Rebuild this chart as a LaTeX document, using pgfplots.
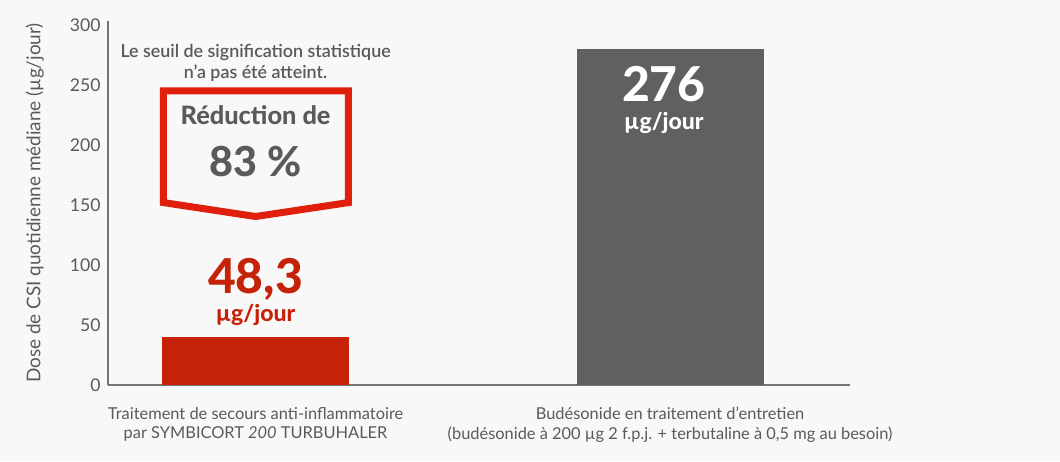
\documentclass[border=0pt]{standalone}
\usepackage{fontspec}
\setmainfont{Lato}
\newfontfamily\latosemi{Lato Semibold}
\newfontfamily\latoheavy{Lato Heavy}
\usepackage{pgfplots}
\pgfplotsset{compat=1.18}
\definecolor{bgcol}{HTML}{F8F8F8}
\definecolor{barred}{HTML}{C4230A}
\definecolor{boxred}{HTML}{E01F0C}
\definecolor{bargray}{HTML}{606062}
\definecolor{txtgray}{HTML}{5A5A5A}
\definecolor{axgray}{HTML}{767676}
\begin{document}
\begin{tikzpicture}
  \fill[bgcol] (0,0) rectangle (795pt,345.75pt);
  \node[rotate=90, text=txtgray, font=\fontsize{14.2}{16}\selectfont] at (26pt,193.5pt)
    {Dose de CSI quotidienne médiane (µg/jour)};
  \begin{axis}[
      at={(81pt,57pt)}, anchor=south west,
      scale only axis,
      width=556.5pt, height=273pt,
      xmin=-0.356, xmax=1.434,
      ymin=0, ymax=303.3,
      axis lines=left,
      axis line style={draw=axgray, -, line width=0.9pt},
      major tick length=0pt,
      ytick={0,50,...,300},
      xtick={0,1},
      xticklabels={{Traitement de secours anti-inflammatoire\\par SYMBICORT \textit{200} TURBUHALER},
                   {Budésonide en traitement d’entretien\\(budésonide à 200 µg 2 f.p.j. + terbutaline à 0,5 mg au besoin)}},
      /pgf/number format/assume math mode=true,
      y tick label style={font=\fontsize{13.2}{15}\selectfont, text=txtgray, xshift=-2pt},
      x tick label style={font=\fontsize{12.3}{14.6}\selectfont, text=txtgray, align=center, yshift=-13pt},
      ybar, bar width=140.25pt, bar shift=0pt,
      clip=false,
    ]
    \addplot[draw=none, fill=barred] coordinates {(0,39.7)};
    \addplot[draw=none, fill=bargray] coordinates {(1,280)};

    \draw[boxred, line width=5.25pt, line join=miter]
      (axis cs:-0.2224,245) -- (axis cs:0.224,245) -- (axis cs:0.224,152)
      -- (axis cs:0,140.4) -- (axis cs:-0.2224,152) -- cycle;
    \node[anchor=base, text=txtgray, align=center, font=\latosemi\fontsize{13.4}{15.75}\selectfont]
      at (axis cs:0,255) {Le seuil de signification statistique\\n’a pas été atteint.};
    \node[anchor=base, text=txtgray, font=\latoheavy\fontsize{19}{21}\selectfont]
      at (axis cs:0,216.7) {Réduction de};
    \node[anchor=base, text=txtgray, font=\latoheavy\fontsize{31}{33}\selectfont]
      at (axis cs:0,173.6) {83 \%};
    \node[anchor=base, text=barred, font=\latoheavy\fontsize{36}{38}\selectfont]
      at (axis cs:0,76.4) {48,3};
    \node[anchor=base, text=barred, font=\latoheavy\fontsize{17.25}{20}\selectfont]
      at (axis cs:0,52.8) {µg/jour};
    \node[anchor=base, text=white, font=\latoheavy\fontsize{36}{38}\selectfont]
      at (axis cs:0.985,236) {276};
    \node[anchor=base, text=white, font=\latoheavy\fontsize{17.25}{20}\selectfont]
      at (axis cs:0.985,212.5) {µg/jour};
  \end{axis}
\end{tikzpicture}
\end{document}
